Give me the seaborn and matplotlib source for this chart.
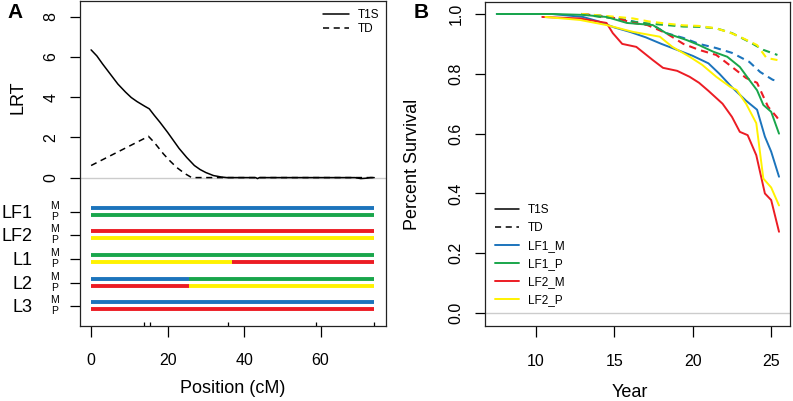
import numpy as np
import pandas as pd
import seaborn as sns
import matplotlib.pyplot as plt
from matplotlib.lines import Line2D
from matplotlib.transforms import blended_transform_factory

# Painel A - LRT ao longo do cromossoma
pos_t1s = [0, 1.5, 3, 5, 7, 9, 10.5, 12, 14, 15.2, 16.5, 18, 20, 21.5, 23, 25, 27,
           28.5, 30, 32, 34, 35.5, 40, 43, 43.5, 44, 50, 60, 69, 70.5, 72, 73, 74]
lrt_t1s = [6.35, 6.05, 5.65, 5.15, 4.65, 4.25, 3.98, 3.78, 3.55, 3.42, 3.1, 2.75, 2.25,
           1.85, 1.45, 1.0, 0.6, 0.4, 0.25, 0.1, 0.03, 0.0, 0.0, 0.0, -0.05, 0.0, 0.0,
           0.0, 0.0, -0.05, -0.03, 0.0, 0.0]
pos_td = [0, 15.0, 16.5, 18.9, 20.5, 22.4, 24.5, 26.3, 30, 74]
lrt_td = [0.6, 2.05, 1.75, 1.18, 0.85, 0.5, 0.2, 0.0, 0.0, 0.0]
marker_pos = [0, 13.9, 15.4, 35.8, 58.8, 74]

lines = ['LF1', 'LF2', 'L1', 'L2', 'L3']
mat_breaks = [[0, 74], [0, 74], [0, 74], [0, 25.6, 74], [0, 74]]
mat_cols = [['blue'], ['red'], ['green'], ['blue', 'green'], ['blue']]
pat_breaks = [[0, 74], [0, 74], [0, 36.9, 74], [0, 25.6, 74], [0, 74]]
pat_cols = [['green'], ['yellow'], ['yellow', 'red'], ['red', 'yellow'], ['red']]

# Painel B - sobrevivência
yr_lf1m = [7.5, 11, 13, 14, 15, 16, 17, 18, 19, 20, 21, 21.7, 22.5, 23.4, 24.1, 24.6, 25.0, 25.5]
sv_lf1m = [1.0, 1.0, 0.99, 0.975, 0.955, 0.94, 0.922, 0.90, 0.88, 0.86, 0.835, 0.80, 0.755,
           0.71, 0.68, 0.59, 0.54, 0.456]
yr_lf1p = [7.5, 11, 13, 14.5, 15.8, 17.45, 18.3, 19.6, 20.4, 21.3, 22.2, 23.0, 23.6, 24.1,
           24.5, 25.0, 25.5]
sv_lf1p = [1.0, 1.0, 0.997, 0.99, 0.97, 0.963, 0.936, 0.913, 0.896, 0.874, 0.857, 0.823,
           0.78, 0.745, 0.696, 0.673, 0.60]
yr_lf2m = [10.4, 12.8, 14.5, 14.9, 15.5, 16.4, 17.45, 18.1, 19.0, 19.8, 20.4, 21.0, 21.9,
           22.5, 23.0, 23.5, 24.05, 24.6, 25.0, 25.5]
sv_lf2m = [0.99, 0.985, 0.97, 0.936, 0.90, 0.89, 0.846, 0.82, 0.81, 0.79, 0.77, 0.743, 0.70,
           0.656, 0.606, 0.595, 0.528, 0.40, 0.378, 0.272]
yr_lf2p = [10.6, 12.8, 14.5, 16.2, 17.9, 18.7, 19.8, 20.6, 21.5, 22.4, 22.8, 23.4, 24.05,
           24.5, 25.0, 25.5]
sv_lf2p = [0.99, 0.98, 0.963, 0.94, 0.924, 0.89, 0.857, 0.83, 0.79, 0.756, 0.746, 0.70,
           0.635, 0.45, 0.42, 0.36]

yr_lf1m_td = [12.9, 14.1, 15.2, 16.2, 17.1, 17.7, 18.3, 19.4, 20.4, 21.5, 22.5, 23.6, 24.3, 25.1, 25.5]
sv_lf1m_td = [1.0, 0.995, 0.985, 0.975, 0.965, 0.955, 0.936, 0.92, 0.90, 0.886, 0.87, 0.84,
              0.806, 0.78, 0.775]
yr_lf1p_td = [12.9, 14.1, 15.2, 16.2, 17.2, 18.3, 19.4, 20.4, 21.5, 22.5, 23.6, 24.5, 25.4]
sv_lf1p_td = [1.0, 0.99, 0.985, 0.974, 0.968, 0.963, 0.958, 0.957, 0.952, 0.936, 0.907, 0.88, 0.863]
yr_lf2m_td = [13, 15.2, 16.2, 17.1, 18.3, 19.4, 20.4, 21.5, 22.5, 23.4, 24.1, 24.8, 25.35, 25.5]
sv_lf2m_td = [1.0, 0.985, 0.97, 0.963, 0.936, 0.90, 0.88, 0.863, 0.823, 0.786, 0.77, 0.69,
              0.656, 0.645]
yr_lf2p_td = [12.9, 14.1, 15.2, 16.2, 17.2, 18.3, 19.4, 20.4, 21.5, 22.5, 23.0, 24.1, 24.7, 25.4]
sv_lf2p_td = [1.0, 0.995, 0.99, 0.985, 0.975, 0.968, 0.962, 0.96, 0.952, 0.935, 0.924,
              0.896, 0.853, 0.846]

cores = {'blue': '#1C74BC', 'green': '#19A64B', 'red': '#EC1C24', 'yellow': '#FFF200'}

sns.set_style('ticks')
plt.rcParams['font.family'] = ['Liberation Sans', 'DejaVu Sans']
plt.rcParams['axes.edgecolor'] = '#222222'
plt.rcParams['axes.linewidth'] = 0.9
for k in ['text.color', 'axes.labelcolor', 'xtick.color', 'ytick.color']:
    plt.rcParams[k] = 'black'

fig = plt.figure(figsize=(7.93, 4.01), dpi=100)
axA = fig.add_axes([0.1009, 0.188, 0.3859, 0.8085])
axB = fig.add_axes([0.6116, 0.187, 0.3846, 0.808])

# ---------- Painel A
axA.axhline(0, color='#cccccc', lw=1, zorder=1)
sns.lineplot(x=pos_t1s, y=lrt_t1s, ax=axA, color='black', lw=1.1, estimator=None)
sns.lineplot(x=pos_td, y=lrt_td, ax=axA, color='black', lw=1.1, estimator=None,
             linestyle=(0, (4, 3)))

row_y = [-1.69, -2.84, -4.03, -5.22, -6.37]
off = 0.17
for i in range(len(lines)):
    for brk, cl, dy in [(mat_breaks[i], mat_cols[i], off), (pat_breaks[i], pat_cols[i], -off)]:
        for j in range(len(cl)):
            axA.hlines(row_y[i] + dy, brk[j], brk[j + 1], color=cores[cl[j]], lw=2.8,
                       capstyle='butt')

axA.set_xlim(-2.9, 77.1)
axA.set_ylim(-7.36, 8.76)
axA.set_xticks([0, 20, 40, 60])
axA.set_xticks(marker_pos, minor=True)
axA.tick_params(axis='x', which='major', direction='out', length=8, width=0.9,
                pad=12, labelsize=11.5)
axA.tick_params(axis='x', which='minor', direction='in', length=3, width=0.9)
axA.set_yticks([0, 2, 4, 6, 8] + row_y, labels=['0', '2', '4', '6', '8'] + [''] * 5,
               rotation=90, va='center')
axA.tick_params(axis='y', direction='out', length=7.5, width=0.9, pad=8, labelsize=11.5)

trA = blended_transform_factory(axA.transAxes, axA.transData)
for i, nm in enumerate(lines):
    axA.text(-0.155, row_y[i] - 0.1, nm, transform=trA, ha='right', va='center', fontsize=13)
    axA.text(-0.082, row_y[i] + 0.3, 'M', transform=trA, ha='center', va='center', fontsize=7.5)
    axA.text(-0.082, row_y[i] - 0.25, 'P', transform=trA, ha='center', va='center', fontsize=7.5)

axA.set_xlabel('Position (cM)', fontsize=13, va='center')
axA.xaxis.set_label_coords(0.5, -0.194)
axA.set_ylabel('LRT', fontsize=13, va='center')
axA.yaxis.set_label_coords(-0.203, 0.704)

hA = [Line2D([], [], color='black', lw=1.1),
      Line2D([], [], color='black', lw=1.1, linestyle=(0, (4, 3)))]
axA.legend(hA, ['T1S', 'TD'], loc='upper left', bbox_to_anchor=(0.779, 0.99),
           frameon=False, fontsize=8.5, handlelength=2.2, handletextpad=0.7,
           labelspacing=0.15, borderaxespad=0)

# ---------- Painel B
axB.axhline(0, color='#cccccc', lw=1, zorder=1)
dash = (0, (3.5, 2.5))
for yr, sv, c in [(yr_lf1m_td, sv_lf1m_td, 'blue'), (yr_lf1p_td, sv_lf1p_td, 'green'),
                  (yr_lf2m_td, sv_lf2m_td, 'red'), (yr_lf2p_td, sv_lf2p_td, 'yellow')]:
    sns.lineplot(x=yr, y=sv, ax=axB, color=cores[c], lw=1.5, estimator=None, linestyle=dash)
for yr, sv, c in [(yr_lf1m, sv_lf1m, 'blue'), (yr_lf1p, sv_lf1p, 'green'),
                  (yr_lf2m, sv_lf2m, 'red'), (yr_lf2p, sv_lf2p, 'yellow')]:
    sns.lineplot(x=yr, y=sv, ax=axB, color=cores[c], lw=1.4, estimator=None)

axB.set_xlim(6.75, 26.2)
axB.set_ylim(-0.043, 1.04)
axB.set_xticks([10, 15, 20, 25])
axB.set_yticks([0, 0.2, 0.4, 0.6, 0.8, 1.0],
               labels=['0.0', '0.2', '0.4', '0.6', '0.8', '1.0'], rotation=90, va='center')
axB.tick_params(axis='x', direction='out', length=8, width=0.9, pad=12, labelsize=11.5)
axB.tick_params(axis='y', direction='out', length=7.5, width=0.9, pad=8, labelsize=11.5)
axB.set_xlabel('Year', fontsize=13, va='center')
axB.xaxis.set_label_coords(0.475, -0.204)
axB.set_ylabel('Percent Survival', fontsize=13, va='center')
axB.yaxis.set_label_coords(-0.239, 0.5)

hB = [Line2D([], [], color='black', lw=1.1),
      Line2D([], [], color='black', lw=1.1, linestyle=(0, (4, 3))),
      Line2D([], [], color=cores['blue'], lw=1.4),
      Line2D([], [], color=cores['green'], lw=1.4),
      Line2D([], [], color=cores['red'], lw=1.4),
      Line2D([], [], color=cores['yellow'], lw=1.4)]
axB.legend(hB, ['T1S', 'TD', 'LF1_M', 'LF1_P', 'LF2_M', 'LF2_P'], loc='center left',
           bbox_to_anchor=(0.017, 0.219), frameon=False, fontsize=8.5, handlelength=2.0,
           handletextpad=0.8, labelspacing=0.5, borderaxespad=0)

fig.text(0.019, 0.97, 'A', fontsize=15, fontweight='bold', ha='center', va='center')
fig.text(0.531, 0.97, 'B', fontsize=15, fontweight='bold', ha='center', va='center')

fig.savefig('out.png', dpi=100)
